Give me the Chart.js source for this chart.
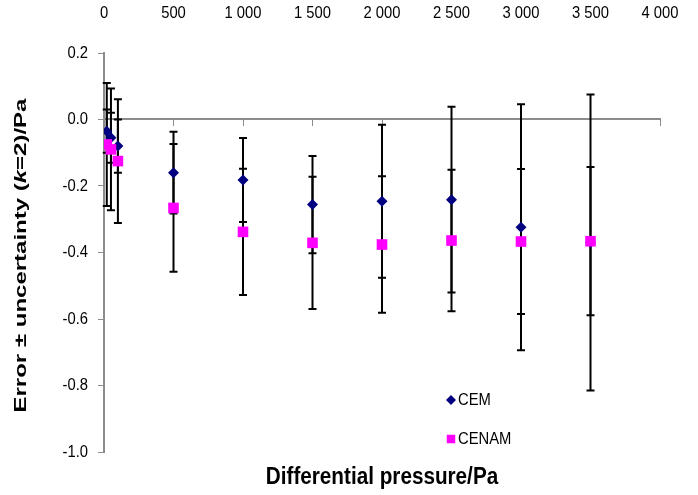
<!DOCTYPE html>
<html>
<head>
<meta charset="utf-8">
<script src="https://cdn.jsdelivr.net/npm/chart.js@4.4.1/dist/chart.umd.min.js"></script>
<style>
  html, body { margin: 0; padding: 0; background: #fff; }
  #wrap { width: 698px; height: 495px; }
</style>
</head>
<body>
<div id="wrap"><canvas id="grafica"></canvas></div>
<script>
// presión diferencial (Pa) y error de cada laboratorio con su U (k=2)
const presiones = [20, 50, 100, 500, 1000, 1500, 2000, 2500, 3000, 3500];
const errorCEM = [-0.035, -0.055, -0.080, -0.160, -0.182, -0.256, -0.246, -0.241, -0.324, -0.370];
const incertCEM = [0.065, 0.075, 0.080, 0.123, 0.126, 0.146, 0.230, 0.279, 0.370, 0.445];
const errorCENAM = [-0.075, -0.090, -0.125, -0.266, -0.338, -0.371, -0.376, -0.364, -0.367, -0.366];
const incertCENAM = [0.185, 0.183, 0.186, 0.192, 0.190, 0.199, 0.205, 0.213, 0.218, 0.223];
const ticksX = [0, 500, 1000, 1500, 2000, 2500, 3000, 3500, 4000];
const ticksY = [0.2, 0.0, -0.2, -0.4, -0.6, -0.8, -1.0];

const fuente = '"Liberation Sans", Arial, sans-serif';
const gris = '#8c8c8c';
const estrecho = 0.87; // letra algo condensada

const puntos = (xs, ys) => xs.map((x, i) => ({ x: x, y: ys[i] }));
const miles = v => String(v).replace(/\B(?=(\d{3})+(?!\d))/g, ' ');

// texto con escala horizontal
function texto(ctx, s, x, y, align, escala) {
    ctx.save();
    ctx.translate(x, y);
    ctx.scale(escala, 1);
    ctx.textAlign = align;
    ctx.fillText(s, 0, 0);
    ctx.restore();
}

// barras de error, debajo de los marcadores
const barrasError = {
    id: 'barrasError',
    beforeDatasetsDraw(chart) {
        const ctx = chart.ctx;
        const sx = chart.scales.x, sy = chart.scales.y;
        ctx.save();
        ctx.strokeStyle = '#000';
        ctx.lineWidth = 2;
        chart.data.datasets.forEach(ds => {
            ds.data.forEach((p, i) => {
                const u = ds.incert[i];
                const px = sx.getPixelForValue(p.x);
                const y1 = sy.getPixelForValue(p.y + u);
                const y2 = sy.getPixelForValue(p.y - u);
                ctx.beginPath();
                ctx.moveTo(px, y1); ctx.lineTo(px, y2);
                ctx.moveTo(px - 4, y1); ctx.lineTo(px + 4, y1);
                ctx.moveTo(px - 4, y2); ctx.lineTo(px + 4, y2);
                ctx.stroke();
            });
        });
        ctx.restore();
    }
};

// etiquetas de los ejes, títulos y leyenda
const textos = {
    id: 'textos',
    afterDraw(chart) {
        const ctx = chart.ctx;
        const a = chart.chartArea;
        const sx = chart.scales.x, sy = chart.scales.y;
        ctx.save();
        ctx.fillStyle = '#000';
        ctx.textBaseline = 'middle';

        // etiquetas eje x (arriba)
        ctx.font = '17px ' + fuente;
        ticksX.forEach(v => texto(ctx, miles(v), sx.getPixelForValue(v), 13, 'center', estrecho));

        // etiquetas eje y
        ticksY.forEach(v => texto(ctx, v.toFixed(1), 88, sy.getPixelForValue(v), 'right', estrecho));

        // título eje x
        ctx.font = 'bold 23px ' + fuente;
        texto(ctx, 'Differential pressure/Pa', (a.left + a.right) / 2, 478, 'center', 0.9);

        // título eje y, con la k en cursiva
        const partes = [
            ['bold', 'Error ± uncertainty ('],
            ['italic bold', 'k'],
            ['bold', '=2)/Pa']
        ];
        let total = 0;
        partes.forEach(p => { ctx.font = p[0] + ' 16px ' + fuente; total += ctx.measureText(p[1]).width; });
        ctx.save();
        ctx.translate(22, (a.top + a.bottom) / 2 + 3);
        ctx.rotate(-Math.PI / 2);
        ctx.scale(1.5, 1);
        ctx.textAlign = 'left';
        let x = -total / 2;
        partes.forEach(p => {
            ctx.font = p[0] + ' 16px ' + fuente;
            ctx.fillText(p[1], x, 0);
            x += ctx.measureText(p[1]).width;
        });
        ctx.restore();

        // leyenda
        ctx.font = '17px ' + fuente;
        const items = [
            { ds: chart.data.datasets[1], y: 400, r: 5 },
            { ds: chart.data.datasets[0], y: 439, r: 6 }
        ];
        items.forEach(it => {
            const ds = it.ds;
            ctx.fillStyle = ds.backgroundColor;
            ctx.strokeStyle = ds.borderColor;
            Chart.helpers.drawPoint(ctx, { pointStyle: ds.pointStyle, radius: it.r, borderWidth: 0 }, 451, it.y);
            ctx.fillStyle = '#000';
            texto(ctx, ds.label, 458, it.y, 'left', estrecho);
        });
        ctx.restore();
    }
};

new Chart(document.getElementById('grafica'), {
    type: 'scatter',
    data: {
        datasets: [
            {
                label: 'CENAM',
                data: puntos(presiones, errorCENAM),
                incert: incertCENAM,
                pointStyle: 'rect',
                pointRadius: 7.5,
                backgroundColor: '#ff00ff',
                borderColor: '#ff00ff',
                borderWidth: 0,
                order: 0
            },
            {
                label: 'CEM',
                data: puntos(presiones, errorCEM),
                incert: incertCEM,
                pointStyle: 'rectRot',
                pointRadius: 5.5,
                backgroundColor: '#000080',
                borderColor: '#000080',
                borderWidth: 0,
                order: 1
            }
        ]
    },
    options: {
        responsive: true,
        maintainAspectRatio: false,
        animation: false,
        layout: { padding: { left: 0, right: 38, top: 0, bottom: 43 } },
        plugins: {
            legend: { display: false },
            tooltip: { enabled: false }
        },
        scales: {
            x: {
                type: 'linear',
                min: 0, max: 4000,
                position: { y: 0 },
                afterBuildTicks: s => { s.ticks = ticksX.map(v => ({ value: v })); },
                ticks: { display: false },
                grid: { drawOnChartArea: false, tickLength: 6, color: gris, lineWidth: 1 },
                border: { color: gris, width: 2 }
            },
            xTop: {
                type: 'linear',
                min: 0, max: 4000,
                position: 'top',
                afterFit: s => { s.height = 53; },
                ticks: { display: false },
                grid: { display: false, drawTicks: false },
                border: { display: false }
            },
            y: {
                type: 'linear',
                min: -1.0, max: 0.2,
                position: 'left',
                afterBuildTicks: s => { s.ticks = ticksY.map(v => ({ value: v })); },
                afterFit: s => { s.width = 104; },
                ticks: { display: false },
                grid: { drawOnChartArea: false, tickLength: 6, color: gris, lineWidth: 1 },
                border: { color: gris, width: 2 }
            }
        }
    },
    plugins: [barrasError, textos]
});
</script>
</body>
</html>
